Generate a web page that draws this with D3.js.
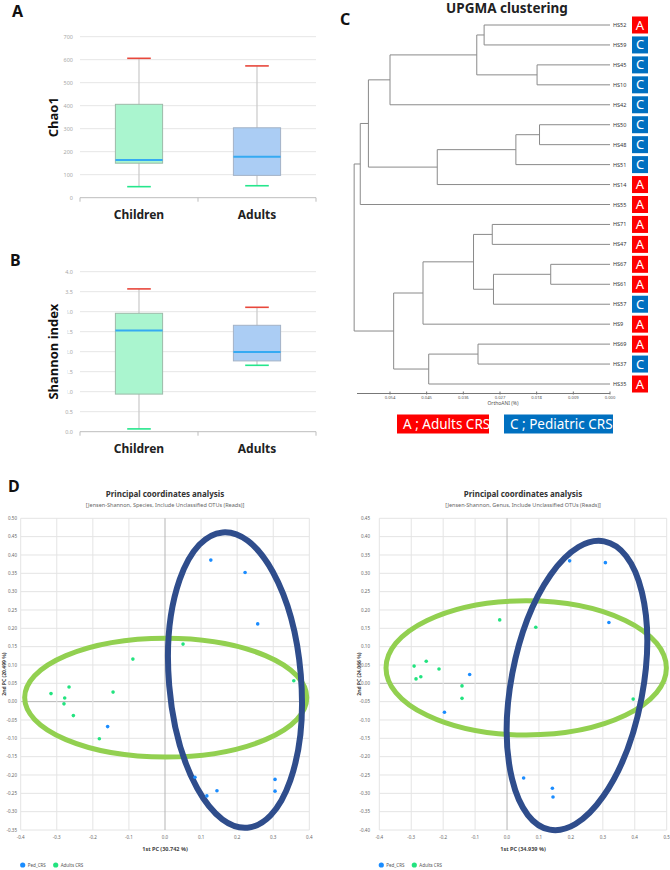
<!DOCTYPE html>
<html>
<head>
<meta charset="utf-8">
<script src="https://cdn.jsdelivr.net/npm/d3@7"></script>
<style>
  body { margin: 0; background: #fff; }
  svg { display: block; font-family: "Noto Sans", "Open Sans", sans-serif; }
</style>
</head>
<body>
<svg id="fig" width="670" height="870"></svg>
<script>
// ---------- data ----------
const groups = ["Children", "Adults"]

const chaoLow  = [48, 52]
const chaoQ1   = [150, 97]
const chaoMed  = [164, 178]
const chaoQ3   = [406, 304]
const chaoHigh = [606, 573]
const chaoTicks = [0, 100, 200, 300, 400, 500, 600, 700]

const shanLow  = [0.07, 1.66]
const shanQ1   = [0.94, 1.77]
const shanMed  = [2.53, 1.99]
const shanQ3   = [2.96, 2.66]
const shanHigh = [3.57, 3.11]
const shanTicks = [0, 0.5, 1, 1.5, 2, 2.5, 3, 3.5, 4]

// dendrogram leaves (top to bottom) and their group
const leaves = ["HS52","HS59","HS45","HS10","HS42","HS50","HS48","HS51","HS14","HS55",
                "HS71","HS47","HS67","HS61","HS57","HS9","HS69","HS37","HS35"]
const leafGroup = ["A","C","C","C","C","C","C","C","A","A",
                   "A","A","A","A","C","A","A","C","A"]
// merges: [left, right, height]; "nK" refers to the K-th merge
const merges = [
  ["HS52", "HS59", 0.0309],
  ["HS45", "HS10", 0.0179],
  ["n0", "n1", 0.0327],
  ["n2", "HS42", 0.0540],
  ["HS50", "HS48", 0.0173],
  ["n4", "HS51", 0.0231],
  ["n5", "HS14", 0.0424],
  ["n3", "n6", 0.0593],
  ["n7", "HS55", 0.0613],
  ["HS71", "HS47", 0.0289],
  ["HS67", "HS61", 0.01455],
  ["n10", "HS57", 0.0286],
  ["n9", "n11", 0.0335],
  ["n12", "HS9", 0.0459],
  ["HS69", "HS37", 0.0324],
  ["n14", "HS35", 0.0445],
  ["n13", "n15", 0.0531],
  ["n8", "n16", 0.0628]
]
const aniTicks = [0.054, 0.045, 0.036, 0.027, 0.018, 0.009, 0]

// PCoA, species level
const spX = [0.127, 0.222, 0.257, -0.159, 0.083, 0.116, 0.144, 0.305, 0.305,
             0.050, -0.089, 0.357, -0.316, -0.278, -0.280, -0.266, -0.254, -0.144, -0.182]
const spY = [0.386, 0.352, 0.212, -0.068, -0.206, -0.257, -0.243, -0.212, -0.244,
             0.157, 0.116, 0.057, 0.022, 0.010, -0.006, 0.040, -0.038, 0.026, -0.101]
const spGroup = ["P","P","P","P","P","P","P","P","P",
                 "A","A","A","A","A","A","A","A","A","A"]
// ellipses: centre, radii (axis units), rotation (deg)
const spEllipses = [
  {grp: "A", cx: 0.002, cy: 0.011, rx: 0.391, ry: 0.162, rot: 0},
  {grp: "P", cx: 0.194, cy: 0.059, rx: 0.183, ry: 0.404, rot: -4.8}
]

// PCoA, genus level
const gnX = [0.196, 0.308, 0.319, -0.117, -0.196, 0.052, 0.142, 0.144,
             -0.023, 0.090, -0.291, -0.253, -0.213, -0.285, -0.270, -0.141, -0.141, 0.395]
const gnY = [0.334, 0.329, 0.166, 0.024, -0.079, -0.258, -0.286, -0.310,
             0.173, 0.153, 0.047, 0.060, 0.039, 0.012, 0.018, -0.007, -0.041, -0.043]
const gnGroup = ["P","P","P","P","P","P","P","P",
                 "A","A","A","A","A","A","A","A","A","A"]
const gnEllipses = [
  {grp: "A", cx: 0.060, cy: 0.042, rx: 0.439, ry: 0.183, rot: 0},
  {grp: "P", cx: 0.219, cy: -0.006, rx: 0.206, ry: 0.400, rot: 10.7}
]

// ---------- drawing ----------
const svg = d3.select("#fig")
svg.append("rect").attr("width", 670).attr("height", 870).attr("fill", "#fff")

function panelLetter(t, x, y) {
  svg.append("text").attr("x", x).attr("y", y)
    .attr("font-size", 16).attr("font-weight", 700).attr("fill", "#111").text(t)
}

function drawBoxChart(cfg) {
  let {top, bottom, domain, ticks, fmt, title, titleBox, low, q1, med, q3, high} = cfg
  let x = d3.scaleBand().domain(groups).range([80, 316])
  let y = d3.scaleLinear().domain(domain).range([bottom, top])
  let bw = x.bandwidth()
  let g = svg.append("g")

  g.selectAll(".grid").data(ticks.slice(1)).enter().append("line")
    .attr("x1", 80).attr("x2", 316)
    .attr("y1", d => y(d)).attr("y2", d => y(d))
    .attr("stroke", "#e6e6e6")
  g.selectAll(".tl").data(ticks).enter().append("text")
    .attr("x", 73).attr("y", d => y(d) + 2)
    .attr("text-anchor", "end").attr("font-size", 5.5).attr("fill", "#a8a8a8")
    .text(fmt)
  g.append("line").attr("x1", 80).attr("x2", 316)
    .attr("y1", y(domain[0])).attr("y2", y(domain[0])).attr("stroke", "#bdbdbd")
  let edges = groups.map(c => x(c)).concat([316])
  g.selectAll(".tk").data(edges).enter().append("line")
    .attr("x1", d => d).attr("x2", d => d)
    .attr("y1", y(domain[0])).attr("y2", y(domain[0]) + 4).attr("stroke", "#bdbdbd")

  g.selectAll(".cat").data(groups).enter().append("text")
    .attr("x", d => x(d) + bw / 2).attr("y", y(domain[0]) + 21)
    .attr("text-anchor", "middle").attr("font-size", 12).attr("font-weight", 700)
    .attr("fill", "#222").text(d => d)

  // axis title (its white box hides part of the tick labels, as in the original)
  let tg = g.append("g").attr("transform", `translate(58,${(top + bottom) / 2}) rotate(-90)`)
  let tt = tg.append("text")
    .attr("text-anchor", "middle").attr("font-size", 13).attr("font-weight", 700)
    .attr("fill", "#111").text(title)
  if (titleBox) {
    let bb = tt.node().getBBox()
    tg.insert("rect", "text").attr("x", bb.x - 1).attr("width", bb.width + 2)
      .attr("y", bb.y).attr("height", bb.height + 5.5).attr("fill", "#fff")
  }

  let fills = ["#aaf5cf", "#abcdf4"]
  let strokes = ["#9dbaa9", "#a3b2c6"]
  groups.forEach((c, i) => {
    let cx = x(c) + bw / 2
    g.append("line").attr("x1", cx).attr("x2", cx)
      .attr("y1", y(high[i])).attr("y2", y(low[i]))
      .attr("stroke", "#c9c9c9").attr("stroke-width", 1.2)
    g.append("rect").attr("x", x(c) + bw * 0.3).attr("width", bw * 0.4)
      .attr("y", y(q3[i])).attr("height", y(q1[i]) - y(q3[i]))
      .attr("fill", fills[i]).attr("stroke", strokes[i]).attr("stroke-width", 1)
    g.append("line").attr("x1", x(c) + bw * 0.3).attr("x2", x(c) + bw * 0.7)
      .attr("y1", y(med[i])).attr("y2", y(med[i]))
      .attr("stroke", "#35aaf2").attr("stroke-width", 2)
    g.append("line").attr("x1", cx - bw * 0.1).attr("x2", cx + bw * 0.1)
      .attr("y1", y(high[i])).attr("y2", y(high[i]))
      .attr("stroke", "#e8473b").attr("stroke-width", 1.6)
    g.append("line").attr("x1", cx - bw * 0.1).attr("x2", cx + bw * 0.1)
      .attr("y1", y(low[i])).attr("y2", y(low[i]))
      .attr("stroke", "#25e68c").attr("stroke-width", 1.6)
  })
}

panelLetter("A", 12, 17)
drawBoxChart({top: 36.7, bottom: 197.7, domain: [0, 700], ticks: chaoTicks,
  fmt: d => d, title: "Chao1", titleBox: false,
  low: chaoLow, q1: chaoQ1, med: chaoMed, q3: chaoQ3, high: chaoHigh})

panelLetter("B", 10, 266)
drawBoxChart({top: 271.7, bottom: 431.7, domain: [0, 4], ticks: shanTicks,
  fmt: d3.format(".1f"), title: "Shannon index", titleBox: true,
  low: shanLow, q1: shanQ1, med: shanMed, q3: shanQ3, high: shanHigh})

// ---------- C: UPGMA dendrogram ----------
function drawDendrogram() {
  let x = d3.scaleLinear().domain([0.0621, 0]).range([357, 610])
  let y = d3.scalePoint().domain(leaves).range([25, 384])
  let g = svg.append("g")

  g.append("text").attr("x", 507).attr("y", 13).attr("text-anchor", "middle")
    .attr("font-size", 13.5).attr("font-weight", 700).attr("fill", "#222")
    .text("UPGMA clustering")

  let nodes = {}
  leaves.forEach(l => { nodes[l] = {h: 0, y: y(l)} })
  merges.forEach((m, i) => {
    let a = nodes[m[0]], b = nodes[m[1]]
    let n = {h: m[2], y: (a.y + b.y) / 2}
    nodes["n" + i] = n
    // vertical connector
    g.append("line").attr("x1", x(n.h)).attr("x2", x(n.h))
      .attr("y1", a.y).attr("y2", b.y).attr("stroke", "#8a8a8a")
    // horizontal branches to children
    ;[a, b].forEach(c => {
      g.append("line").attr("x1", x(n.h)).attr("x2", x(c.h))
        .attr("y1", c.y).attr("y2", c.y).attr("stroke", "#8a8a8a")
    })
  })

  g.selectAll(".leaf").data(leaves).enter().append("text")
    .attr("x", 613).attr("y", d => y(d) + 2)
    .attr("font-size", 5.5).attr("fill", "#333").text(d => d)

  let badge = g.selectAll(".badge").data(leaves).enter().append("g")
    .attr("transform", d => `translate(632,${y(d) - 8.5})`)
  badge.append("rect").attr("width", 16).attr("height", 17)
    .attr("fill", (d, i) => leafGroup[i] == "A" ? "#fe0000" : "#0070c0")
  badge.append("text").attr("x", 8).attr("y", 13).attr("text-anchor", "middle")
    .attr("font-size", 13).attr("fill", "#fff").text((d, i) => leafGroup[i])

  // distance axis
  let ay = 393.5
  g.append("line").attr("x1", 357).attr("x2", 610).attr("y1", ay).attr("y2", ay)
    .attr("stroke", "#777")
  g.selectAll(".atk").data(aniTicks).enter().append("line")
    .attr("x1", d => x(d)).attr("x2", d => x(d))
    .attr("y1", ay - 2).attr("y2", ay + 1).attr("stroke", "#777")
  g.selectAll(".atl").data(aniTicks).enter().append("text")
    .attr("x", d => x(d)).attr("y", ay + 5.5).attr("text-anchor", "middle")
    .attr("font-size", 4.2).attr("fill", "#555").text(d3.format(".3f"))
  g.append("text").attr("x", 503).attr("y", 405).attr("text-anchor", "middle")
    .attr("font-size", 5).attr("fill", "#555").text("OrthoANI (%)")

  // legend
  let leg = [["A ; Adults CRS", "#fe0000", 397, 92], ["C ; Pediatric CRS", "#0070c0", 504, 109]]
  leg.forEach(l => {
    g.append("rect").attr("x", l[2]).attr("y", 414.5).attr("width", l[3]).attr("height", 19)
      .attr("fill", l[1])
    g.append("text").attr("x", l[2] + 6).attr("y", 429).attr("font-size", 13.5)
      .attr("fill", "#fff").text(l[0])
  })
}
panelLetter("C", 340, 25)
drawDendrogram()

// ---------- D: PCoA ----------
const minusFmt = d3.formatLocale({decimal: ".", thousands: ",", grouping: [3], currency: ["", ""], minus: "-"})

function drawPcoa(cfg) {
  let {xr, yr, xd, yd, px, py, grp, ells, title, sub, xlab, ylab, ylabX, ytx} = cfg
  let x = d3.scaleLinear().domain(xd).range(xr)
  let y = d3.scaleLinear().domain(yd).range(yr)
  let g = svg.append("g")
  let cx = (xr[0] + xr[1]) / 2

  g.append("text").attr("x", cx).attr("y", 497).attr("text-anchor", "middle")
    .attr("font-size", 8).attr("font-weight", 700).attr("fill", "#333").text(title)
  g.append("text").attr("x", cx).attr("y", 506.5).attr("text-anchor", "middle")
    .attr("font-size", 5.5).attr("fill", "#666").text(sub)

  let yt = d3.range(yd[0], yd[1] + 0.0001, 0.05).map(v => Math.round(v * 100) / 100)
  let xt = d3.range(xd[0], xd[1] + 0.0001, 0.1).map(v => Math.round(v * 10) / 10)
  g.selectAll(".gy").data(yt).enter().append("line")
    .attr("x1", xr[0]).attr("x2", xr[1]).attr("y1", d => y(d)).attr("y2", d => y(d))
    .attr("stroke", d => d == 0 ? "#b5b5b5" : "#e4e4e4")
  g.selectAll(".gx").data(xt).enter().append("line")
    .attr("y1", yr[0]).attr("y2", yr[1]).attr("x1", d => x(d)).attr("x2", d => x(d))
    .attr("stroke", d => d == 0 ? "#b5b5b5" : "#e4e4e4")
  g.selectAll(".ly").data(yt).enter().append("text")
    .attr("x", ytx).attr("y", d => y(d) + 1.7).attr("text-anchor", "end")
    .attr("font-size", 4.5).attr("fill", "#666").text(minusFmt.format(".2f"))
  g.selectAll(".lx").data(xt).enter().append("text")
    .attr("x", d => x(d)).attr("y", 839).attr("text-anchor", "middle")
    .attr("font-size", 4.5).attr("fill", "#666").text(minusFmt.format(".1f"))

  g.append("text").attr("x", (xr[0] + xr[1]) / 2).attr("y", 851).attr("text-anchor", "middle")
    .attr("font-size", 5.5).attr("font-weight", 700).attr("fill", "#444").text(xlab)
  g.append("text").attr("transform", `translate(${ylabX},${(yr[0] + yr[1]) / 2}) rotate(-90)`)
    .attr("text-anchor", "middle").attr("font-size", 5).attr("font-weight", 700)
    .attr("fill", "#444").text(ylab)

  let kx = x(1) - x(0), ky = y(0) - y(1)
  g.selectAll(".ell").data(ells).enter().append("ellipse")
    .attr("cx", d => x(d.cx)).attr("cy", d => y(d.cy))
    .attr("rx", d => d.rx * kx).attr("ry", d => d.ry * ky)
    .attr("transform", d => `rotate(${d.rot},${x(d.cx)},${y(d.cy)})`)
    .attr("fill", "none").attr("stroke", d => d.grp == "A" ? "#92d050" : "#2f4d8c")
    .attr("stroke-width", d => d.grp == "A" ? 5 : 6)

  g.selectAll(".pt").data(px).enter().append("circle")
    .attr("cx", d => x(d)).attr("cy", (d, i) => y(py[i])).attr("r", 1.8)
    .attr("fill", (d, i) => grp[i] == "A" ? "#22e37f" : "#1a8cff")

  // legend
  let lx = xr[0] + 2
  g.append("circle").attr("cx", lx).attr("cy", 865).attr("r", 2.6).attr("fill", "#1a8cff")
  g.append("text").attr("x", lx + 5).attr("y", 866.7).attr("font-size", 4.5).attr("fill", "#555").text("Ped_CRS")
  g.append("circle").attr("cx", lx + 33).attr("cy", 865).attr("r", 2.6).attr("fill", "#22e37f")
  g.append("text").attr("x", lx + 38).attr("y", 866.7).attr("font-size", 4.5).attr("fill", "#555").text("Adults CRS")
}

panelLetter("D", 8, 492)
drawPcoa({xr: [20.7, 309.3], yr: [830, 518.3], xd: [-0.4, 0.4], yd: [-0.35, 0.5],
  px: spX, py: spY, grp: spGroup, ells: spEllipses,
  title: "Principal coordinates analysis",
  sub: "[Jensen-Shannon, Species, Include Unclassified OTUs (Reads)]",
  xlab: "1st PC (30.742 %)", ylab: "2nd PC (20.499 %)", ylabX: 6, ytx: 17})
drawPcoa({xr: [379.3, 666.7], yr: [830, 518.3], xd: [-0.4, 0.5], yd: [-0.4, 0.45],
  px: gnX, py: gnY, grp: gnGroup, ells: gnEllipses,
  title: "Principal coordinates analysis",
  sub: "[Jensen-Shannon, Genus, Include Unclassified OTUs (Reads)]",
  xlab: "1st PC (34.939 %)", ylab: "2nd PC (24.066 %)", ylabX: 361, ytx: 370})
</script>
</body>
</html>
